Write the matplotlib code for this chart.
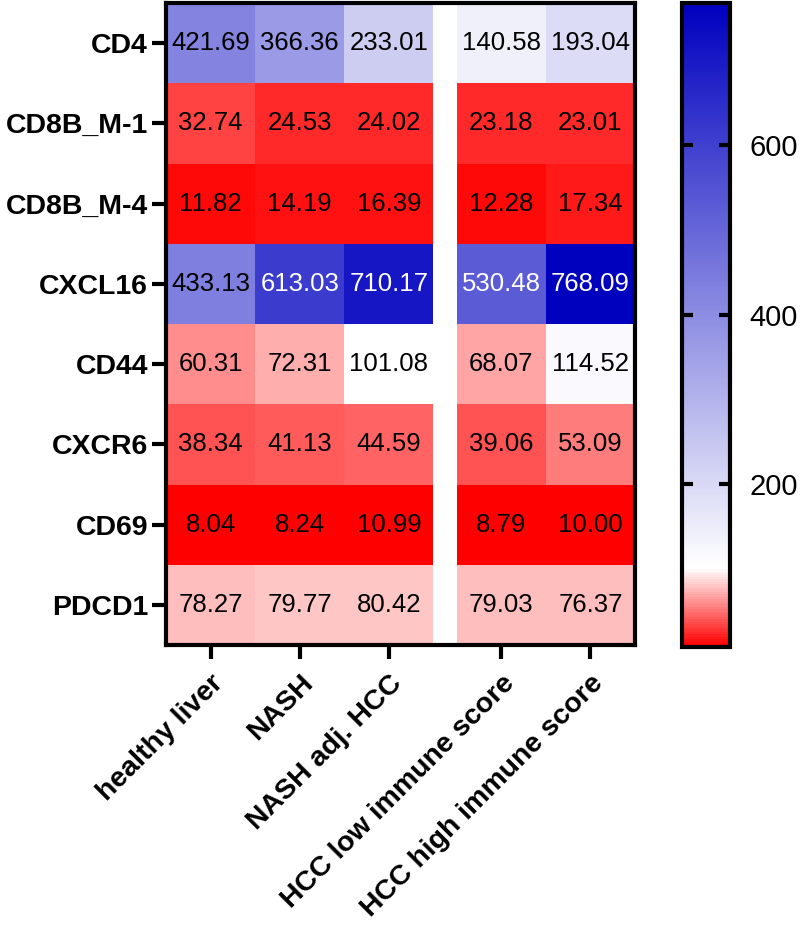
import numpy as np
import matplotlib
matplotlib.use("Agg")
import matplotlib.pyplot as plt
from matplotlib.colors import LinearSegmentedColormap, Normalize
from matplotlib.cm import ScalarMappable

plt.rcParams['font.family'] = ['Liberation Sans', 'DejaVu Sans']

genes = ["CD4", "CD8B_M-1", "CD8B_M-4", "CXCL16", "CD44", "CXCR6", "CD69", "PDCD1"]
groups = ["healthy liver", "NASH", "NASH adj. HCC", "HCC low immune score", "HCC high immune score"]

healthy_liver = [421.69, 32.74, 11.82, 433.13, 60.31, 38.34, 8.04, 78.27]
nash = [366.36, 24.53, 14.19, 613.03, 72.31, 41.13, 8.24, 79.77]
nash_adj_hcc = [233.01, 24.02, 16.39, 710.17, 101.08, 44.59, 10.99, 80.42]
hcc_low = [140.58, 23.18, 12.28, 530.48, 68.07, 39.06, 8.79, 79.03]
hcc_high = [193.04, 23.01, 17.34, 768.09, 114.52, 53.09, 10.00, 76.37]

cbar_ticks = [200, 400, 600]

data = np.array([healthy_liver, nash, nash_adj_hcc, hcc_low, hcc_high]).T  # rows=genes

vmin, vmax, vmid = data.min(), data.max(), 100.0
mid = (vmid - vmin) / (vmax - vmin)
cmap = LinearSegmentedColormap.from_list(
    "rwb", [(0.0, "#ff0000"), (mid, "#ffffff"), (1.0, "#0000bf")])
norm = Normalize(vmin=vmin, vmax=vmax)

W, H = 800, 927
fig = plt.figure(figsize=(W / 100, H / 100), dpi=100)

def px_axes(l, t, r, b):
    return fig.add_axes([l / W, 1 - b / H, (r - l) / W, (b - t) / H])

ax = px_axes(166, 3, 635, 645)

gap = 0.26
xedges = np.array([0, 1, 2, 3, 3 + gap, 4 + gap, 5 + gap])
yedges = np.arange(len(genes) + 1)
full = np.full((len(genes), 6), np.nan)
full[:, :3] = data[:, :3]
full[:, 4:] = data[:, 3:]
mfull = np.ma.masked_invalid(full)
ax.pcolormesh(xedges, yedges, mfull, cmap=cmap, norm=norm, shading='flat')
ax.set_xlim(0, 5 + gap)
ax.set_ylim(len(genes), 0)

xcenters = [0.5, 1.5, 2.5, 3.5 + gap, 4.5 + gap]
for i in range(len(genes)):
    for j in range(len(groups)):
        v = data[i, j]
        col = 'white' if v > 500 else 'black'
        ax.text(xcenters[j], i + 0.5, f"{v:.2f}", ha='center', va='center',
                fontsize=18.5, color=col)

ax.set_xticks(xcenters)
ax.set_xticklabels(groups, rotation=45, ha='right', rotation_mode='anchor',
                   fontsize=20.5, fontweight='bold')
ax.set_yticks(np.arange(len(genes)) + 0.5)
ax.set_yticklabels(genes, fontsize=20.5, fontweight='bold')
ax.tick_params(axis='both', direction='out', length=10, width=3)
ax.tick_params(axis='y', pad=3)
ax.tick_params(axis='x', pad=8)
for s in ax.spines.values():
    s.set_linewidth(3)

cax = px_axes(682, 3, 730, 647)
sm = ScalarMappable(norm=norm, cmap=cmap)
cb = fig.colorbar(sm, cax=cax)
cb.set_ticks(cbar_ticks)
cb.outline.set_linewidth(3)
cax.tick_params(axis='y', direction='in', length=8, width=3, left=True, right=True,
                labelsize=21, pad=14)
cax.yaxis.set_ticks_position('both')
cax.yaxis.set_label_position('right')

fig.savefig("out.png", dpi=100)
